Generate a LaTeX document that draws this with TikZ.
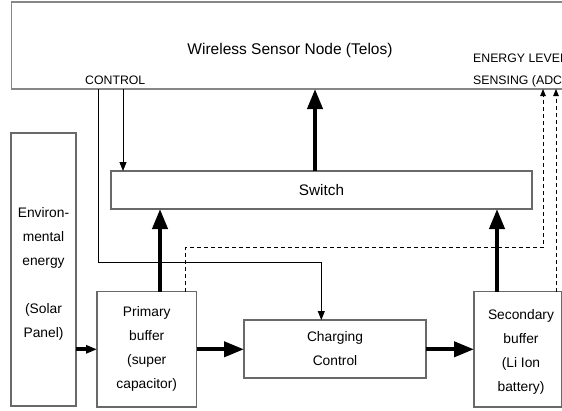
\documentclass[tikz,border=0pt]{standalone}
\usepackage{fontspec}
\setmainfont{Liberation Sans}
\usetikzlibrary{arrows.meta}
\definecolor{boxgray}{RGB}{105,105,105}
\definecolor{topgray}{RGB}{135,135,135}
\tikzset{
  box/.style={draw=boxgray, line width=1.1pt, inner sep=0pt, outer sep=0pt},
  topbox/.style={draw=topgray, line width=1.5pt, inner sep=0pt, outer sep=0pt},
  ttitle/.style={font=\fontsize{15.5}{18}\selectfont, inner sep=0pt},
  tlabel/.style={font=\fontsize{12.3}{14}\selectfont, inner sep=0pt},
  tbox/.style={font=\fontsize{13.8}{24}\selectfont, align=center},
  power/.style={line width=4pt, -{Triangle[length=20pt,width=15pt]}},
  smallpower/.style={line width=4pt, -{Triangle[length=11pt,width=8pt]}},
  ctrl/.style={line width=0.9pt, -{Triangle[length=9pt,width=7pt]}},
  sense/.style={line width=0.8pt, dash pattern=on 4pt off 3pt, -{Triangle[length=7pt,width=5.5pt]}}
}
\begin{document}
\begin{tikzpicture}[x=1pt,y=-1pt]
\useasboundingbox (0,0) rectangle (562,410);
\clip (0,0) rectangle (562,410);
% boxes
\node[topbox, minimum width=640pt, minimum height=87pt] (wsn) at (331.7,45.5) {};
\node[box, minimum width=421pt, minimum height=38pt, tbox, font=\fontsize{15.3}{18}\selectfont] (sw) at (321.5,190) {\raisebox{-2pt}{Switch}};
\node[box, minimum width=65pt, minimum height=273pt] (env) at (43.5,269.5) {};
\node[box, minimum width=99.5pt, minimum height=115.5pt, tbox] (pb) at (146.75,349.25) {Primary\\buffer\\(super\\capacitor)};
\node[box, minimum width=182pt, minimum height=58pt, tbox] (ch) at (335,349) {Charging\\Control};
\node[box, minimum width=87.5pt, minimum height=115.5pt, tbox] (sb) at (517.75,349.25) {};
\node[tbox, inner sep=0pt] (sbt) at (521,351.7) {Secondary\\buffer\\(Li Ion\\battery)};
% texts
\node[ttitle, anchor=base] (title) at (290,54) {Wireless Sensor Node (Telos)};
\node[tlabel, anchor=base west] (ctl) at (85,84) {CONTROL};
\node[tlabel, anchor=base west] (eng1) at (473,62) {ENERGY LEVEL};
\node[tlabel, anchor=base west] (eng2) at (473,84) {SENSING (ADC)};
\node[tbox, inner sep=0pt] (envt) at (43.5,274) {Environ-\\mental\\energy\\[24pt](Solar\\Panel)};
% x/y guides
\coordinate (cA) at (98,0);
\coordinate (cB) at (123,0);
\coordinate (cT) at (315,0);
\coordinate (cP) at (160,0);
\coordinate (cPd) at (185,0);
\coordinate (cS) at (497,0);
\coordinate (cD1) at (543,0);
\coordinate (cD2) at (556,0);
\coordinate (cC) at (321.3,0);
\coordinate (yC) at (0,262.3);
\coordinate (yD) at (0,247.3);
\coordinate (yM) at (0,349.3);
% control lines
\draw[ctrl] (wsn.south -| cB) -- (sw.north -| cB);
\draw[ctrl] (wsn.south -| cA) |- (cC |- yC) -- (ch.north -| cC);
% power arrows
\draw[power] (sw.north -| cT) -- (wsn.south -| cT);
\draw[power] (pb.north -| cP) -- (sw.south -| cP);
\draw[power] (sb.north -| cS) -- (sw.south -| cS);
\draw[smallpower] (env.east |- yM) -- (pb.west |- yM);
\draw[power] (pb.east |- yM) -- (ch.west |- yM);
\draw[power] (ch.east |- yM) -- (sb.west |- yM);
% sensing lines
\draw[sense] (pb.north -| cPd) -- (cPd |- yD) -- (cD1 |- yD) -- (wsn.south -| cD1);
\draw[sense] (sb.north -| cD2) -- (wsn.south -| cD2);
\end{tikzpicture}
\end{document}
